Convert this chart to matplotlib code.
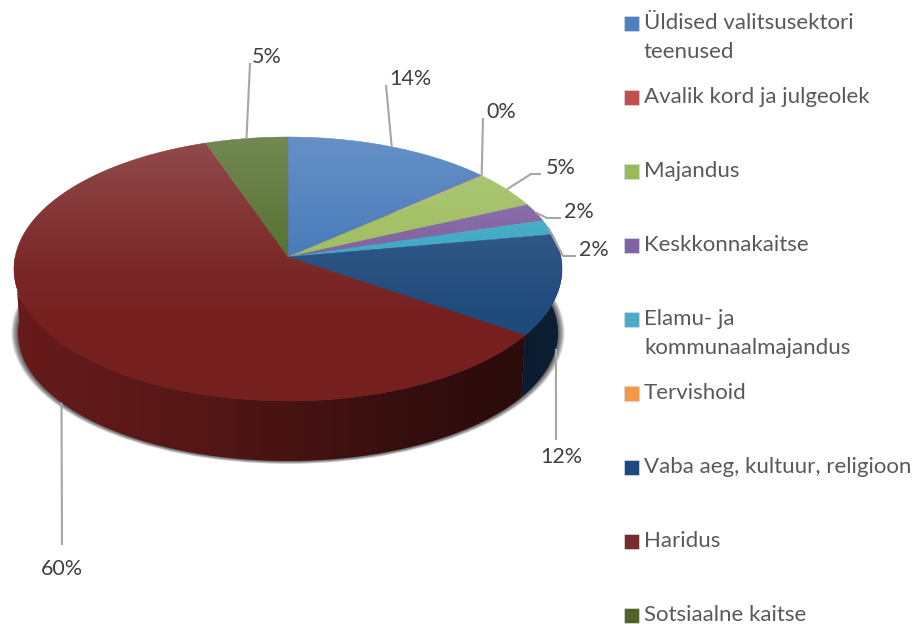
import numpy as np
import matplotlib
matplotlib.use("Agg")
import matplotlib.pyplot as plt
from matplotlib.patches import Polygon, Rectangle, Ellipse
from matplotlib.colors import to_rgb

names = ["Üldised valitsusektori\nteenused", "Avalik kord ja julgeolek", "Majandus",
         "Keskkonnakaitse", "Elamu- ja\nkommunaalmajandus", "Tervishoid",
         "Vaba aeg, kultuur, religioon", "Haridus", "Sotsiaalne kaitse"]
values = [13.5, 0.1, 4.6, 2.2, 1.8, 0.0, 12.4, 60.1, 5.3]
top_colors = ["#3f75b8", "#c0504d", "#9bbb59", "#7b5a9e", "#35a5c2", "#f79646", "#1f4a7c", "#761f1f", "#4f6b28"]
legend_colors = ["#4f81bd", "#c0504d", "#9bbb59", "#8064a2", "#4bacc6", "#f79646", "#1f497d", "#772c2a", "#4f6228"]
# label text position for each slice (None = no label)
label_pos = [(410, 79), (501, 112), (561, 168), (579, 212), (594, 250), None, (561, 457), (62, 569), (267, 57)]
# elbow points of the leader lines
leader_mid = [[(386, 85)], [(483, 118)], [(531, 174), (541, 174)], [(547, 218), (561, 218)],
              [(563, 256), (576, 256)], None, [(556, 440)], [(62, 545)], [(250, 63)]]
from_bottom = [False, False, False, False, False, False, True, True, False]

CX, APEX_Y = 288, 257
A, B, K = 272.9, 130.9, 0.0909


def rim(theta, bottom=False):
    # perspective mapping of a circle, theta clockwise from the top
    u, v = np.sin(theta), np.cos(theta)
    d = 1 + K * v
    x = CX + A * u / d
    y = APEX_Y - B * v / d
    if bottom:
        x = CX + (x - CX) * 270 / 274
        y = 333 + (y - 269) * 128 / 132
    return x, y


plt.rcParams["font.family"] = ["Lato", "DejaVu Sans"]
fig = plt.figure(figsize=(9.16, 6.24), dpi=100)
ax = fig.add_axes([0, 0, 1, 1])
ax.axis("off")

edges = np.concatenate([[0], np.cumsum(values)]) / sum(values) * 2 * np.pi

# shadow under the pie
for i in range(7):
    ax.add_patch(Ellipse((288, 333), 2 * (270 + 6.5 - i), 2 * (128 + 3 - 0.5 * i),
                         color="black", alpha=0.13, lw=0, zorder=1))

# side wall, one horizontal gradient per slice
grad_x = np.linspace(10, 566, 278)
grad_f = np.interp(grad_x, [14, 200, 400, 510, 562], [0.88, 0.72, 0.46, 0.37, 0.42])
for i, val in enumerate(values):
    if val == 0:
        continue
    a0, a1 = max(edges[i], np.pi * 0.42), min(edges[i + 1], np.pi * 1.5)
    if a1 <= a0:
        continue
    ts = np.linspace(a0, a1, 150)
    xt, yt = rim(ts)
    xb, yb = rim(ts, True)
    wall = Polygon(list(zip(xt, yt)) + list(zip(xb[::-1], yb[::-1])), fc="none", ec="none", zorder=2)
    ax.add_patch(wall)
    shade = grad_f[None, :, None] * np.array(to_rgb(top_colors[i]))[None, None, :]
    im = ax.imshow(shade, extent=(10, 566, 470, 230), aspect="auto", zorder=2, interpolation="bilinear")
    im.set_clip_path(wall)

# top face
all_x, all_y = [], []
for i, val in enumerate(values):
    if val == 0:
        continue
    ts = np.linspace(edges[i], edges[i + 1], max(int(val * 4), 2))
    xs, ys = rim(ts)
    all_x.extend(xs)
    all_y.extend(ys)
    pts = [(CX, APEX_Y)] + list(zip(xs, ys))
    lw = 0.3 if val > 0.5 else 0
    ax.add_patch(Polygon(pts, facecolor=top_colors[i], edgecolor=top_colors[i], lw=lw, zorder=3))

# light sheen on the top face
top_path = Polygon(list(zip(all_x, all_y)), closed=True, fc="none", ec="none", zorder=4)
ax.add_patch(top_path)
sheen = np.zeros((270, 2, 4))
sheen[:, :, :3] = 1
sheen[:, :, 3] = np.interp(np.linspace(137, 407, 270), [137, 250, 320, 407], [0.2, 0.06, 0.0, 0.0])[:, None]
im = ax.imshow(sheen, extent=(10, 566, 407, 137), aspect="auto", zorder=4)
im.set_clip_path(top_path)

ax.set_xlim(0, 916)
ax.set_ylim(624, 0)

# data labels and leaders
for i, val in enumerate(values):
    if label_pos[i] is None:
        continue
    x0, y0 = rim((edges[i] + edges[i + 1]) / 2, from_bottom[i])
    pts = [(x0, y0)] + leader_mid[i]
    ax.plot([p[0] for p in pts], [p[1] for p in pts], color="#a6a6a6", lw=1.5, zorder=5,
            solid_capstyle="butt")
    ax.text(label_pos[i][0], label_pos[i][1], f"{round(val)}%", color="#404040", fontsize=15.5,
            ha="center", va="center", zorder=6)

# legend
legend_y = 23
for name, col in zip(names, legend_colors):
    ax.add_patch(Rectangle((624, legend_y - 7.5), 15, 15, facecolor=col, edgecolor="#d5dce8", lw=0.5, zorder=5))
    ax.text(644, legend_y, name.split("\n")[0], color="#595959", fontsize=16, ha="left", va="center")
    if "\n" in name:
        ax.text(644, legend_y + 29, name.split("\n")[1], color="#595959", fontsize=16, ha="left", va="center")
    legend_y += 74

fig.savefig("out.png", dpi=100)
